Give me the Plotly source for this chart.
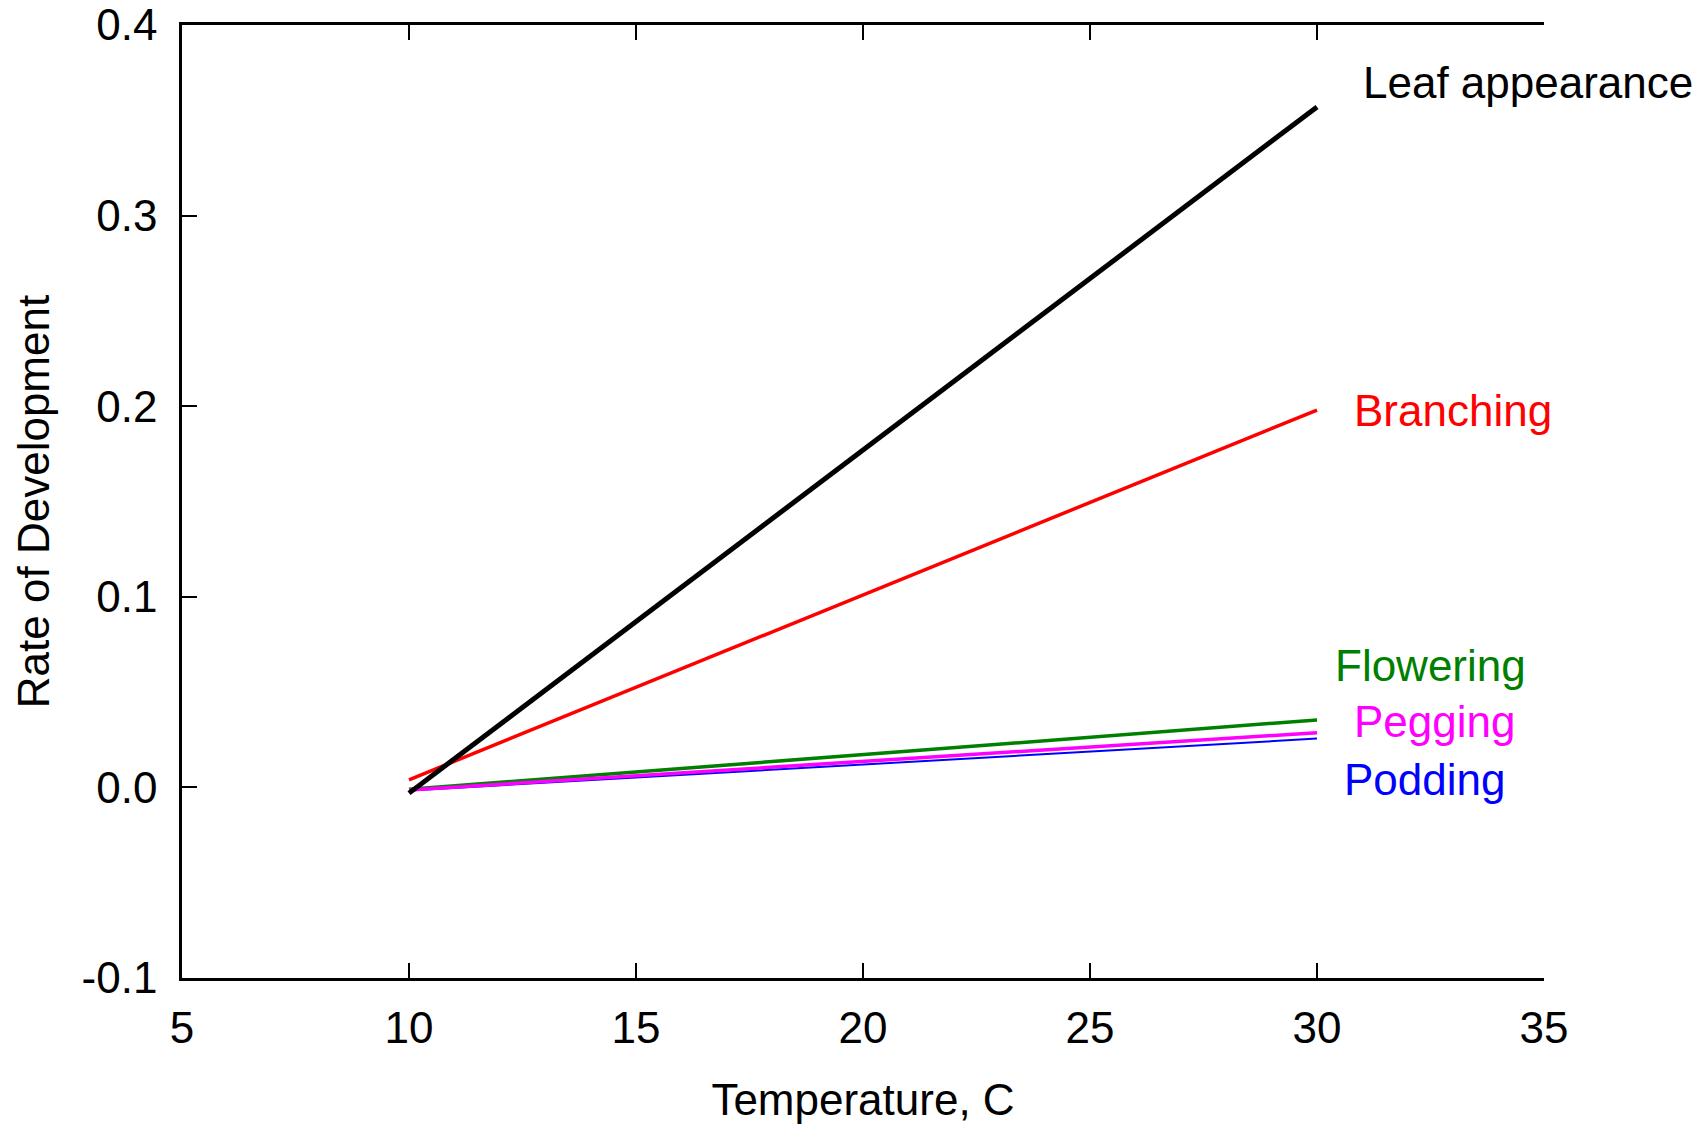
import plotly.graph_objects as go

# data
temperature = [10, 30]
leaf_appearance = [-0.003, 0.357]
branching = [0.004, 0.198]
flowering = [-0.001, 0.0354]
pegging = [-0.0014, 0.0287]
podding = [-0.0016, 0.0256]

x_ticks = [5, 10, 15, 20, 25, 30, 35]
y_ticks = [-0.1, 0.0, 0.1, 0.2, 0.3, 0.4]
y_tick_labels = ["-0.1", "0.0", "0.1", "0.2", "0.3", "0.4"]

# label name, colour, x, y (data coords)
labels = [
    ("Leaf appearance", "black", 30.96, 0.3696),
    ("Branching", "red", 30.78, 0.198),
    ("Flowering", "green", 30.35, 0.064),
    ("Pegging", "magenta", 30.77, 0.0346),
    ("Podding", "blue", 30.55, 0.0042),
]

font_name = "Liberation Sans, Arial, sans-serif"
fsize = 44

fig = go.Figure()

# draw order: thin ones first, black last
series = [
    (podding, "#0000ff", 2),
    (flowering, "#008000", 3.5),
    (pegging, "#ff00ff", 3.5),
    (branching, "#ff0000", 3.5),
    (leaf_appearance, "#000000", 5),
]
for vals, col, w in series:
    fig.add_trace(go.Scatter(
        x=temperature, y=vals, mode="lines",
        line=dict(color=col, width=w),
        showlegend=False, hoverinfo="skip"
    ))

for text, col, lx, ly in labels:
    fig.add_annotation(
        x=lx, y=ly, xref="x", yref="y", text=text,
        showarrow=False, xanchor="left", yanchor="middle",
        font=dict(size=fsize, color=col, family=font_name)
    )

# page body has an 8px margin, so the figure is 8px smaller each way
fig.update_layout(
    width=1700,
    height=1116,
    margin=dict(l=174, r=164, t=17, b=146, pad=0),
    plot_bgcolor="white",
    paper_bgcolor="white",
    font=dict(family=font_name, size=fsize, color="black"),
)

fig.update_xaxes(
    range=[5, 35], tickvals=x_ticks, automargin=False,
    showgrid=False, zeroline=False,
    showline=True, linecolor="black", linewidth=2.5,
    mirror="ticks", ticks="inside", ticklen=15, tickwidth=2, tickcolor="black",
    ticklabelstandoff=9, ticklabeloverflow="allow",
    title=dict(text="Temperature, C", standoff=47, font=dict(size=fsize)),
)
fig.update_yaxes(
    range=[-0.1, 0.4], tickvals=y_ticks, ticktext=y_tick_labels, automargin=False,
    showgrid=False, zeroline=False,
    showline=True, linecolor="black", linewidth=2.5,
    mirror=False, ticks="inside", ticklen=15, tickwidth=2, tickcolor="black",
    ticklabelstandoff=13, ticklabeloverflow="allow",
    title=dict(text="Rate of Development", standoff=19, font=dict(size=fsize)),
)

fig.write_html("out.html")
